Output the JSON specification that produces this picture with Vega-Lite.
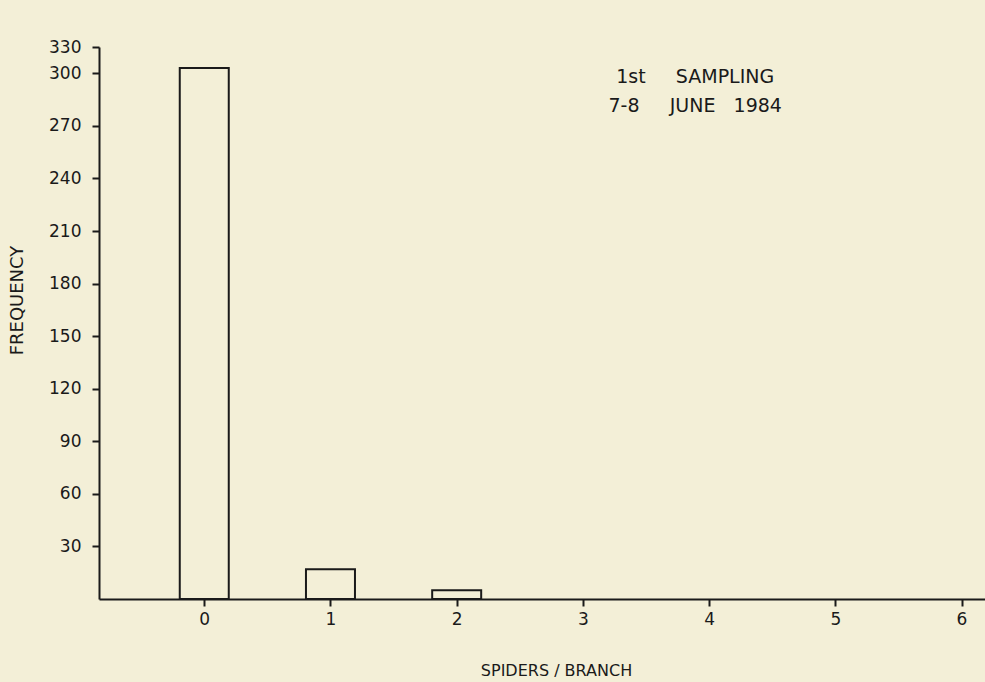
{
  "$schema": "https://vega.github.io/schema/vega-lite/v6.json",
  "width": 886,
  "height": 552,
  "autosize": {"type": "none"},
  "padding": {"left": 99, "top": 47, "right": 0, "bottom": 83},
  "background": "#f3efd7",
  "view": {"stroke": null},
  "config": {
    "font": "DejaVu Sans",
    "axis": {
      "grid": false,
      "domainColor": "#1a1a1a",
      "domainWidth": 2,
      "tickColor": "#1a1a1a",
      "tickWidth": 2,
      "tickSize": 7,
      "labelColor": "#1a1a1a",
      "titleColor": "#1a1a1a",
      "labelFont": "DejaVu Sans",
      "titleFont": "DejaVu Sans",
      "labelFontSize": 17,
      "titleFontSize": 16,
      "titleFontWeight": "normal"
    }
  },
  "layer": [
    {
      "data": {
        "values": [
          {"spiders": 0, "frequency": 303},
          {"spiders": 1, "frequency": 17},
          {"spiders": 2, "frequency": 5},
          {"spiders": 3, "frequency": 0},
          {"spiders": 4, "frequency": 0},
          {"spiders": 5, "frequency": 0},
          {"spiders": 6, "frequency": 0}
        ]
      },
      "mark": {"type": "bar", "width": 49, "fill": null, "stroke": "#1a1a1a", "strokeWidth": 2},
      "transform": [{"filter": "datum.frequency > 0"}],
      "encoding": {
        "x": {
          "field": "spiders",
          "type": "quantitative",
          "scale": {"domain": [-0.834, 6.186], "nice": false, "zero": false, "padding": 0},
          "axis": {
            "values": [0, 1, 2, 3, 4, 5, 6],
            "format": "d",
            "labelPadding": 5,
            "title": "SPIDERS / BRANCH",
            "titlePadding": 35,
            "titleX": 457
          }
        },
        "y": {
          "field": "frequency",
          "type": "quantitative",
          "scale": {"domain": [0, 315], "nice": false, "padding": 0},
          "axis": {
            "values": [30, 60, 90, 120, 150, 180, 210, 240, 270, 300, 315],
            "labelExpr": "datum.value == 315 ? '330' : datum.label",
            "labelPadding": 11,
            "title": "FREQUENCY",
            "titleFontSize": 18,
            "titlePadding": 22,
            "titleY": 253
          }
        }
      }
    },
    {
      "data": {"values": [{"note": "annotation"}]},
      "mark": {
        "type": "text",
        "fontSize": 19,
        "color": "#1a1a1a",
        "align": "center",
        "baseline": "middle",
        "lineHeight": 29
      },
      "encoding": {
        "x": {"datum": 3.89},
        "y": {"datum": 298},
        "text": {"value": ["1st\u00a0\u00a0\u00a0\u00a0\u00a0SAMPLING", "7-8\u00a0\u00a0\u00a0\u00a0\u00a0JUNE\u00a0\u00a0\u00a01984"]}
      }
    }
  ]
}
